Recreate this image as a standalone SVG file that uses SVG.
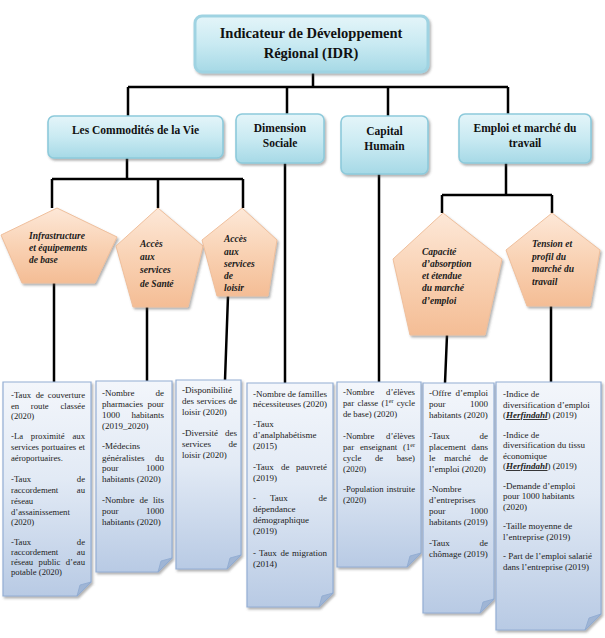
<svg xmlns="http://www.w3.org/2000/svg" width="605" height="638" viewBox="0 0 605 638">
<defs>
<style>
.hdr{fill:url(#gTeal);stroke:#8dcadb;stroke-width:1.6;filter:url(#sh)}
.top{fill:url(#gTeal);stroke:#9fd3e2;stroke-width:3;filter:url(#sh)}
.pent{fill:url(#gPeach);stroke:#efbf9c;stroke-width:1;filter:url(#sh)}
.note{fill:url(#gNote);stroke:#93aed4;stroke-width:1.2;filter:url(#sh)}
.fold{fill:#9fb5d5;stroke:#8ea9d0;stroke-width:0.8}
.ln{stroke:#000;stroke-width:2.5;fill:none}
.ht{font-family:"Liberation Serif","Times New Roman",serif;font-weight:bold;fill:#111;text-anchor:middle}
.pt{font-family:"Liberation Serif","Times New Roman",serif;font-weight:bold;font-style:italic;font-size:9.5px;fill:#1a1a1a}
.t{font-family:"Liberation Serif","Times New Roman",serif;font-size:9px;fill:#222}
.s{font-size:8.7px}
.e{text-anchor:end}
.hf{font-weight:bold;font-style:italic;text-decoration:underline}
</style>
<linearGradient id="gTeal" x1="0" y1="0" x2="0" y2="1">
<stop offset="0" stop-color="#e4f5f9"/><stop offset="0.5" stop-color="#c9eaf2"/><stop offset="1" stop-color="#a6d9e6"/>
</linearGradient>
<linearGradient id="gPeach" x1="0" y1="0" x2="0" y2="1">
<stop offset="0" stop-color="#fde8d8"/><stop offset="0.5" stop-color="#f9d2b4"/><stop offset="1" stop-color="#f4bd95"/>
</linearGradient>
<linearGradient id="gNote" x1="0" y1="0" x2="0" y2="1">
<stop offset="0" stop-color="#f3f6fb"/><stop offset="0.45" stop-color="#e2eaf5"/><stop offset="1" stop-color="#b8cae4"/>
</linearGradient>
<filter id="sh" x="-10%" y="-10%" width="130%" height="130%">
<feDropShadow dx="1.5" dy="2" stdDeviation="1.2" flood-color="#555" flood-opacity="0.45"/>
</filter>
</defs>

<g id="connectors">
<path class="ln" d="M313 72V87M128 87H508M128 87V116M287 87V114M388 87V116M508 87V114"/>
<path class="ln" d="M127 158V179M52 179H243M52 179V208M158 179V208M243 179V208"/>
<path class="ln" d="M285 163V383M379 174V382"/>
<path class="ln" d="M506 163V195M442 195H552M442 195V213M552 195V213"/>
<path class="ln" d="M54 283V382M147 307V381M228 296L225 380M447 335L445 383M551 306V382"/>
</g>

<g id="idr">
<rect class="top" x="195" y="16" width="233" height="56" rx="7"/>
<text class="ht" font-size="14.5" x="311" y="38">Indicateur de Développement</text>
<text class="ht" font-size="14.5" x="311" y="58">Régional (IDR)</text>
</g>

<g id="commodites">
<rect class="hdr" x="48" y="116" width="175" height="42" rx="6"/>
<text class="ht" font-size="11.5" x="135.5" y="134">Les Commodités de la Vie</text>
</g>
<g id="dimension-sociale">
<rect class="hdr" x="236" y="114" width="88" height="49" rx="6"/>
<text class="ht" font-size="11.5" x="280" y="132">Dimension</text>
<text class="ht" font-size="11.5" x="280" y="147">Sociale</text>
</g>
<g id="capital-humain">
<rect class="hdr" x="341" y="116" width="87" height="58" rx="6"/>
<text class="ht" font-size="11.5" x="384.5" y="135">Capital</text>
<text class="ht" font-size="11.5" x="384.5" y="150">Humain</text>
</g>
<g id="emploi">
<rect class="hdr" x="459" y="114" width="132" height="49" rx="6"/>
<text class="ht" font-size="11.5" x="525" y="132">Emploi et marché du</text>
<text class="ht" font-size="11.5" x="525" y="147">travail</text>
</g>

<g id="infrastructure">
<polygon class="pent" points="57,208 117,237 95,283 22,283 1,235"/>
<text class="pt" x="29" y="239">Infrastructure</text>
<text class="pt" x="29" y="251">et équipements</text>
<text class="pt" x="29" y="263">de base</text>
</g>
<g id="sante">
<polygon class="pent" points="158,208 203,246 188,307 133,307 116,246"/>
<text class="pt" font-size="10.5" x="140" y="247">Accès</text>
<text class="pt" font-size="10.5" x="140" y="260">aux</text>
<text class="pt" font-size="10.5" x="140" y="273">services</text>
<text class="pt" font-size="10.5" x="140" y="287">de Santé</text>
</g>
<g id="loisir">
<polygon class="pent" points="242,208 277,240 268,296 217,296 202,240"/>
<text class="pt" x="224" y="242">Accès</text>
<text class="pt" x="224" y="255">aux</text>
<text class="pt" x="224" y="267">services</text>
<text class="pt" x="224" y="279">de</text>
<text class="pt" x="224" y="291">loisir</text>
</g>
<g id="capacite">
<polygon class="pent" points="443,213 502,259 485,335 410,335 393,259"/>
<text class="pt" font-style="normal" x="422" y="255">Capacité</text>
<text class="pt" font-style="normal" x="422" y="267">d’absorption</text>
<text class="pt" font-style="normal" x="422" y="279">et étendue</text>
<text class="pt" font-style="normal" x="422" y="291">du marché</text>
<text class="pt" font-style="normal" x="422" y="304">d’emploi</text>
</g>
<g id="tension">
<polygon class="pent" points="552,213 600,250 590,306 527,306 506,250"/>
<text class="pt" x="532" y="247">Tension et</text>
<text class="pt" x="532" y="260">profil du</text>
<text class="pt" x="532" y="272">marché du</text>
<text class="pt" x="532" y="285">travail</text>
</g>

<g id="note-infrastructure">
<path class="note" d="M3 382H91V582L77 596H3Z"/>
<path class="fold" d="M91 582L77 596L80 585Z"/>
<text class="t s" y="398"><tspan x="11">-Taux</tspan><tspan x="35.7">de</tspan><tspan x="85" class="e">couverture</tspan></text>
<text class="t s" y="408.5"><tspan x="11">en</tspan><tspan x="30.8">route</tspan><tspan x="85" class="e">classée</tspan></text>
<text class="t s" x="11" y="419">(2020)</text>
<text class="t s" y="439"><tspan x="11">-La</tspan><tspan x="30.8">proximité</tspan><tspan x="85" class="e">aux</tspan></text>
<text class="t s" y="450"><tspan x="11">services</tspan><tspan x="41.5">portuaires</tspan><tspan x="85" class="e">et</tspan></text>
<text class="t s" x="11" y="460.5">aéroportuaires.</text>
<text class="t s" y="482"><tspan x="11">-Taux</tspan><tspan x="85" class="e">de</tspan></text>
<text class="t s" y="493"><tspan x="11">raccordement</tspan><tspan x="85" class="e">au</tspan></text>
<text class="t s" x="11" y="504">réseau</text>
<text class="t s" x="11" y="514.5">d’assainissement</text>
<text class="t s" x="11" y="525">(2020)</text>
<text class="t s" y="545"><tspan x="11">-Taux</tspan><tspan x="85" class="e">de</tspan></text>
<text class="t s" y="555"><tspan x="11">raccordement</tspan><tspan x="85" class="e">au</tspan></text>
<text class="t s" y="565"><tspan x="11">réseau</tspan><tspan x="38.6">public</tspan><tspan x="85" class="e">d’eau</tspan></text>
<text class="t s" x="11" y="575">potable (2020)</text>
</g>

<g id="note-sante">
<path class="note" d="M96 381H172V558L158 572H96Z"/>
<path class="fold" d="M172 558L158 572L161 561Z"/>
<text class="t" y="396"><tspan x="102">-Nombre</tspan><tspan x="164" class="e">de</tspan></text>
<text class="t" y="407"><tspan x="102">pharmacies</tspan><tspan x="164" class="e">pour</tspan></text>
<text class="t" y="418"><tspan x="102">1000</tspan><tspan x="164" class="e">habitants</tspan></text>
<text class="t" x="102" y="429">(2019_2020)</text>
<text class="t" x="102" y="449">-Médecins</text>
<text class="t" y="461"><tspan x="102">généralistes</tspan><tspan x="164" class="e">du</tspan></text>
<text class="t" y="471"><tspan x="102">pour</tspan><tspan x="164" class="e">1000</tspan></text>
<text class="t" x="102" y="482">habitants (2020)</text>
<text class="t" y="503"><tspan x="102">-Nombre</tspan><tspan x="139.5">de</tspan><tspan x="164" class="e">lits</tspan></text>
<text class="t" y="514"><tspan x="102">pour</tspan><tspan x="164" class="e">1000</tspan></text>
<text class="t" x="102" y="525">habitants (2020)</text>
</g>

<g id="note-loisir">
<path class="note" d="M176 380H241V555L227 569H176Z"/>
<path class="fold" d="M241 555L227 569L230 558Z"/>
<text class="t" x="182" y="393">-Disponibilité</text>
<text class="t" y="404"><tspan x="182">des</tspan><tspan x="196.8">services</tspan><tspan x="237" class="e">de</tspan></text>
<text class="t" x="182" y="415">loisir (2020)</text>
<text class="t" y="436"><tspan x="182">-Diversité</tspan><tspan x="237" class="e">des</tspan></text>
<text class="t" y="447"><tspan x="182">services</tspan><tspan x="237" class="e">de</tspan></text>
<text class="t" x="182" y="458">loisir (2020)</text>
</g>

<g id="note-sociale">
<path class="note" d="M247 383H333V593L319 607H247Z"/>
<path class="fold" d="M333 593L319 607L322 596Z"/>
<text class="t" y="397"><tspan x="253">-Nombre</tspan><tspan x="287.5">de</tspan><tspan x="327" class="e">familles</tspan></text>
<text class="t" y="407"><tspan x="253">nécessiteuses</tspan><tspan x="327" class="e">(2020)</tspan></text>
<text class="t" x="253" y="427">-Taux</text>
<text class="t" x="253" y="438">d’analphabétisme</text>
<text class="t" x="253" y="449">(2015)</text>
<text class="t" y="470"><tspan x="253">-Taux</tspan><tspan x="281">de</tspan><tspan x="327" class="e">pauvreté</tspan></text>
<text class="t" x="253" y="481">(2019)</text>
<text class="t" y="501"><tspan x="253">-</tspan><tspan x="270">Taux</tspan><tspan x="327" class="e">de</tspan></text>
<text class="t" x="253" y="512">dépendance</text>
<text class="t" x="253" y="523">démographique</text>
<text class="t" x="253" y="534">(2019)</text>
<text class="t" y="556"><tspan x="253">-</tspan><tspan x="259">Taux</tspan><tspan x="280.5">de</tspan><tspan x="327" class="e">migration</tspan></text>
<text class="t" x="253" y="567">(2014)</text>
</g>

<g id="note-capital">
<path class="note" d="M337 382H421V553L407 567H337Z"/>
<path class="fold" d="M421 553L407 567L410 556Z"/>
<text class="t s" y="395"><tspan x="343">-Nombre</tspan><tspan x="415" class="e">d’élèves</tspan></text>
<text class="t s" y="406"><tspan x="343">par</tspan><tspan x="357.4">classe</tspan><tspan x="381.5">(1<tspan font-size="6" dy="-3">er</tspan></tspan><tspan x="415" dy="3" class="e">cycle</tspan></text>
<text class="t s" x="343" y="417">de base) (2020)</text>
<text class="t s" y="439"><tspan x="343">-Nombre</tspan><tspan x="415" class="e">d’élèves</tspan></text>
<text class="t s" y="450"><tspan x="343">par</tspan><tspan x="360">enseignant</tspan><tspan x="415" class="e">(1<tspan font-size="6" dy="-3">er</tspan></tspan></text>
<text class="t s" y="461"><tspan x="343">cycle</tspan><tspan x="374.9">de</tspan><tspan x="415" class="e">base)</tspan></text>
<text class="t s" x="343" y="472">(2020)</text>
<text class="t s" y="492"><tspan x="343">-Population</tspan><tspan x="415" class="e">instruite</tspan></text>
<text class="t s" x="343" y="503">(2020)</text>
</g>

<g id="note-capacite">
<path class="note" d="M423 383H494V599L480 613H423Z"/>
<path class="fold" d="M494 599L480 613L483 602Z"/>
<text class="t" y="396"><tspan x="429">-Offre</tspan><tspan x="488" class="e">d’emploi</tspan></text>
<text class="t" y="407"><tspan x="429">pour</tspan><tspan x="488" class="e">1000</tspan></text>
<text class="t" x="429" y="418">habitants (2020)</text>
<text class="t" y="439"><tspan x="429">-Taux</tspan><tspan x="488" class="e">de</tspan></text>
<text class="t" y="450"><tspan x="429">placement</tspan><tspan x="488" class="e">dans</tspan></text>
<text class="t" y="461"><tspan x="429">le</tspan><tspan x="444.3">marché</tspan><tspan x="488" class="e">de</tspan></text>
<text class="t" x="429" y="472">l’emploi (2020)</text>
<text class="t" x="429" y="492">-Nombre</text>
<text class="t" x="429" y="503">d’entreprises</text>
<text class="t" y="514"><tspan x="429">pour</tspan><tspan x="488" class="e">1000</tspan></text>
<text class="t" x="429" y="525">habitants (2019)</text>
<text class="t" y="546"><tspan x="429">-Taux</tspan><tspan x="488" class="e">de</tspan></text>
<text class="t" x="429" y="557">chômage (2019)</text>
</g>

<g id="note-tension">
<path class="note" d="M496 382H601V614L585 630H496Z"/>
<path class="fold" d="M601 614L585 630L589 618Z"/>
<text class="t" x="503" y="397">-Indice de</text>
<text class="t" x="503" y="407.5">diversification d’emploi</text>
<text class="t" x="503" y="418">(<tspan class="hf">Herfindahl</tspan>) (2019)</text>
<text class="t" x="503" y="437.5">-Indice de</text>
<text class="t" x="503" y="448">diversification du tissu</text>
<text class="t" x="503" y="458.5">économique</text>
<text class="t" x="503" y="469">(<tspan class="hf">Herfindahl</tspan>) (2019)</text>
<text class="t" x="503" y="488.5">-Demande d’emploi</text>
<text class="t" x="503" y="499">pour 1000 habitants</text>
<text class="t" x="503" y="509.5">(2020)</text>
<text class="t" x="503" y="529">-Taille moyenne de</text>
<text class="t" x="503" y="539.5">l’entreprise (2019)</text>
<text class="t" x="503" y="559">- Part de l’emploi salarié</text>
<text class="t" x="503" y="569.5">dans l’entreprise (2019)</text>
</g>
</svg>
